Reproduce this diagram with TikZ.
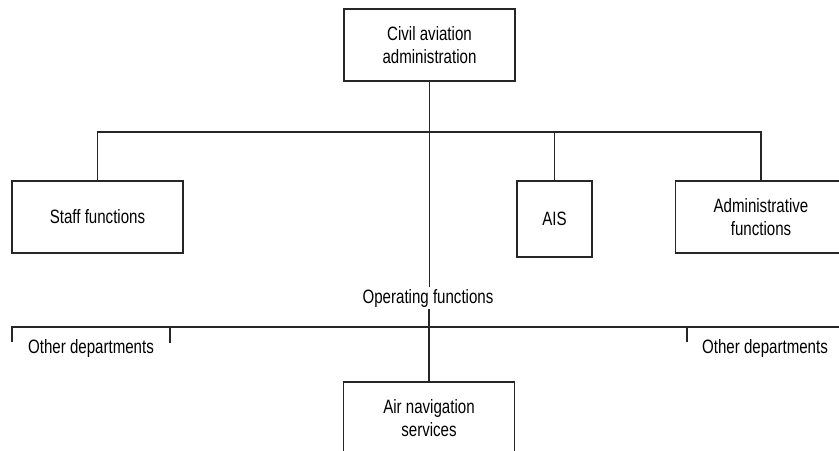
\documentclass[tikz,border=0pt]{standalone}
\usepackage{fontspec}
\setmainfont{Liberation Sans}[FakeStretch=0.78]
\usetikzlibrary{positioning}
\tikzset{
  orgbox/.style={draw=black!85, line width=1.1pt, minimum width=#1, minimum height=54pt, inner sep=0pt, align=center, font=\fontsize{14.5}{17.3}\selectfont},
  orgbox/.default=128pt,
  orgtext/.style={inner sep=1pt, font=\fontsize{14.5}{17.3}\selectfont},
  link/.style={black!85, line width=1pt},
}
\begin{document}
\begin{tikzpicture}[x=0.75pt, y=-0.75pt]
			%%%%% START %%%%%
			\useasboundingbox (0,0) rectangle (839,450);
			\clip (0,0) rectangle (839,450);
			
			\node[orgbox] (caa) at (429.5,45) {Civil aviation\\administration};
			\node[orgbox] (staff) at (97.5,217) {Staff functions};
			\node[orgbox=56pt, minimum height=57pt] (ais) at (554.5,219) {AIS};
			\node[orgbox] (admin) at (761,217) {Administrative\\functions};
			\node[orgtext] (ops) at (428,298) {Operating functions};
			\node[orgbox] (ans) at (429,418) {Air navigation\\services};
			\node[orgtext] (otherl) at (91,348) {Other departments};
			\node[orgtext] (otherr) at (765,348) {Other departments};
			
			\coordinate (topbar) at (428,132);
			\coordinate (lowbar) at (428,327);
			
			\draw[link] (caa.south) -- (caa.south |- ops.north);
			\draw[link, line width=1.4pt] (staff.north) |- (topbar) -| (admin.north);
			\draw[link] (ais.north) -- (ais.north |- topbar);
			
			\draw[link] (ans.north) -- (ans.north |- ops.south);
			\draw[link, line width=1.4pt] (12,342) |- (lowbar) -- (839,327);
			\draw[link] (170,327) -- (170,343);
			\draw[link, line width=2pt] (687,327) -- (687,342);
			
			%%%%% END %%%%%
\end{tikzpicture}
\end{document}
